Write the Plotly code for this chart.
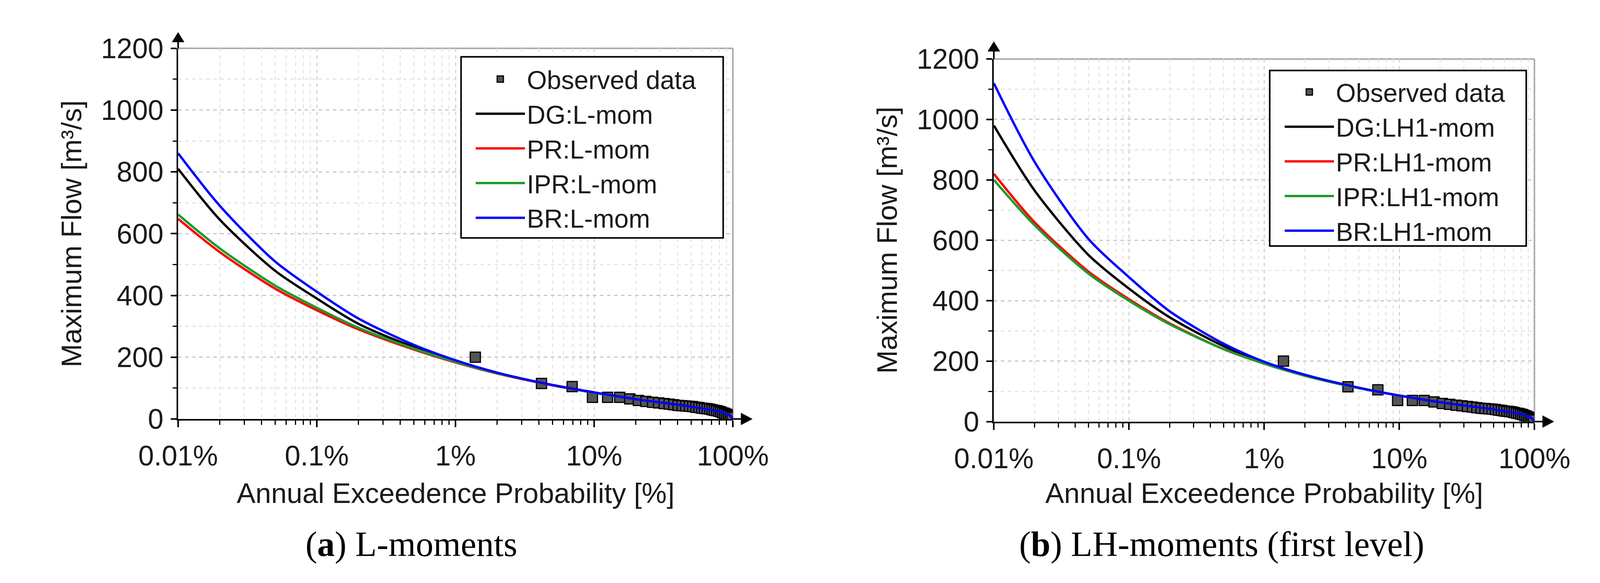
import plotly.graph_objects as go

# ---------------- data ----------------
aep = [0.01, 0.02, 0.05, 0.1, 0.2, 0.5, 1, 2, 5, 10, 20, 50, 80, 95, 99.9]

# (a) L-moments
dg_a  = [810, 645, 480, 390, 308, 233, 187, 149, 110, 86, 64, 40, 24, 12, 1]
pr_a  = [648, 540, 422, 352, 290, 225, 183, 147, 109, 85, 64, 40, 24, 12, 1]
ipr_a = [662, 552, 432, 360, 295, 228, 185, 148, 110, 85, 64, 40, 24, 12, 1]
br_a  = [860, 690, 510, 412, 325, 240, 190, 150, 110, 86, 64, 40, 24, 12, 1]

# (b) LH-moments (first level)
dg_b  = [980, 765, 552, 440, 345, 250, 196, 154, 112, 86, 64, 40, 24, 12, 1]
pr_b  = [820, 660, 497, 405, 325, 240, 192, 152, 111, 86, 64, 40, 24, 12, 1]
ipr_b = [800, 650, 490, 400, 322, 240, 192, 152, 111, 86, 64, 40, 24, 12, 1]
br_b  = [1120, 860, 605, 478, 365, 258, 198, 155, 112, 86, 64, 40, 24, 12, 1]

# observed annual maxima (plotting position in %, flow)
obs_p = [1.39, 4.17, 6.94, 9.72, 12.5, 15.28, 18.06, 20.83, 23.61, 26.39, 29.17, 31.94,
         34.72, 37.5, 40.28, 43.06, 45.83, 48.61, 51.39, 54.17, 56.94, 59.72, 62.5, 65.28,
         68.06, 70.83, 73.61, 76.39, 79.17, 81.94, 84.72, 87.5, 90.28, 93.06, 95.83, 98.61]
obs_q = [200, 115, 105, 70, 70, 70, 65, 60, 57, 54, 52, 50, 48, 46, 44, 43, 42, 41,
         40, 38, 37, 35, 34, 33, 32, 30, 28, 27, 25, 23, 20, 18, 15, 12, 9, 5]

x_tickvals = [0.01, 0.1, 1, 10, 100]
x_ticktext = ["0.01%", "0.1%", "1%", "10%", "100%"]
y_tickvals = [0, 200, 400, 600, 800, 1000, 1200]

names_a = ["DG:L-mom", "PR:L-mom", "IPR:L-mom", "BR:L-mom"]
names_b = ["DG:LH1-mom", "PR:LH1-mom", "IPR:LH1-mom", "BR:LH1-mom"]
colors = ["#000000", "#ff0000", "#1f9a2a", "#0000ff"]

captions = ["(<b>a</b>) L-moments", "(<b>b</b>) LH-moments (first level)"]
x_title = "Annual Exceedence Probability [%]"
y_title = "Maximum Flow [m³/s]"

# ---------------- layout geometry (pixels) ----------------
W, H = 4137, 1493
SANS = "Liberation Sans, Arial, sans-serif"
SERIF = "Liberation Serif, Times New Roman, serif"
TXT = "#1a1a1a"

def fx(x):
    return x / W

def fy(y):
    return 1 - y / H

panels = [
    dict(x0=363, x1=1853, yt=80, yb=1083, box=(1123, 1827, 103, 593), leg_x=1157, leg_t=111,
         ytitle_x=77, cap_x=989, arrow_up=37, arrow_right=1905),
    dict(x0=2554, x1=4006, yt=109, yb=1090, box=(3295, 3984, 140, 615), leg_x=3330, leg_t=146,
         ytitle_x=2268, cap_x=3166, arrow_up=62, arrow_right=4058),
]

minor_x = [k * d for d in [0.01, 0.1, 1, 10] for k in range(2, 10)]

fig = go.Figure()

series_sets = [
    ([dg_a, pr_a, ipr_a, br_a], names_a),
    ([dg_b, pr_b, ipr_b, br_b], names_b),
]

for i, (series, names) in enumerate(series_sets):
    xa = "x" if i == 0 else "x2"
    ya = "y" if i == 0 else "y2"
    leg = "legend" if i == 0 else "legend2"
    fig.add_trace(go.Scatter(
        x=obs_p, y=obs_q, mode="markers", name="Observed data",
        marker=dict(symbol="square", size=26, color="#555555",
                    line=dict(color="#000000", width=3)),
        xaxis=xa, yaxis=ya, legend=leg,
    ))
    for vals, nm, col in zip(series, names, colors):
        fig.add_trace(go.Scatter(
            x=aep, y=vals, mode="lines", name=nm,
            line=dict(color=col, width=6, shape="spline", smoothing=0.8),
            xaxis=xa, yaxis=ya, legend=leg,
        ))

shapes = []
annotations = []
layout_axes = {}

for i, p in enumerate(panels):
    sfx = "" if i == 0 else str(i + 1)
    layout_axes["xaxis" + sfx] = dict(
        type="log", range=[-2, 2],
        domain=[fx(p["x0"]), fx(p["x1"])],
        anchor="y" + sfx,
        tickmode="array", tickvals=x_tickvals, ticktext=x_ticktext,
        ticks="outside", ticklen=17, tickwidth=4, tickcolor="#000000",
        showline=True, linecolor="#000000", linewidth=4,
        showgrid=True, gridcolor="#d2d2d2", gridwidth=3, griddash="dash",
        minor=dict(tickmode="array", tickvals=minor_x, ticks="outside", ticklen=11,
                   tickwidth=3, tickcolor="#000000", showgrid=True,
                   gridcolor="#e6e6e6", gridwidth=3, griddash="dash"),
        tickfont=dict(family=SANS, size=72, color=TXT),
        ticklabelstandoff=12,
        zeroline=False, fixedrange=True,
    )
    layout_axes["yaxis" + sfx] = dict(
        range=[0, 1200],
        domain=[fy(p["yb"]), fy(p["yt"])],
        anchor="x" + sfx,
        tickmode="array", tickvals=y_tickvals,
        ticks="outside", ticklen=15, tickwidth=4, tickcolor="#000000",
        showline=True, linecolor="#000000", linewidth=4,
        showgrid=True, gridcolor="#c8c8c8", gridwidth=3, griddash="dash",
        minor=dict(dtick=100, ticks="outside", ticklen=10, tickwidth=3,
                   tickcolor="#000000", showgrid=True, gridcolor="#e4e4e4",
                   gridwidth=3, griddash="dash"),
        tickfont=dict(family=SANS, size=72, color=TXT),
        ticklabelstandoff=4,
        zeroline=False, fixedrange=True,
    )
    # grey frame on top and right
    shapes.append(dict(type="line", xref="paper", yref="paper",
                       x0=fx(p["x0"]), x1=fx(p["x1"]), y0=fy(p["yt"]), y1=fy(p["yt"]),
                       line=dict(color="#aaaaaa", width=4), layer="below"))
    shapes.append(dict(type="line", xref="paper", yref="paper",
                       x0=fx(p["x1"]), x1=fx(p["x1"]), y0=fy(p["yt"]), y1=fy(p["yb"]),
                       line=dict(color="#aaaaaa", width=4), layer="below"))
    # axis extensions with arrow heads
    shapes.append(dict(type="line", xref="paper", yref="paper",
                       x0=fx(p["x0"]), x1=fx(p["x0"]), y0=fy(p["yt"]), y1=fy(p["arrow_up"] + 20),
                       line=dict(color="#000000", width=4)))
    ax0, tip = p["x0"], p["arrow_up"]
    shapes.append(dict(type="path", xref="paper", yref="paper",
                       path=f"M {fx(ax0-16)},{fy(tip+26)} L {fx(ax0+16)},{fy(tip+26)} L {fx(ax0)},{fy(tip)} Z",
                       fillcolor="#000000", line=dict(color="#000000", width=1)))
    shapes.append(dict(type="line", xref="paper", yref="paper",
                       x0=fx(p["x1"]), x1=fx(p["arrow_right"] - 20), y0=fy(p["yb"]), y1=fy(p["yb"]),
                       line=dict(color="#000000", width=4)))
    rt, yb = p["arrow_right"], p["yb"]
    shapes.append(dict(type="path", xref="paper", yref="paper",
                       path=f"M {fx(rt-30)},{fy(yb-16)} L {fx(rt-30)},{fy(yb+16)} L {fx(rt)},{fy(yb)} Z",
                       fillcolor="#000000", line=dict(color="#000000", width=1)))
    # legend frame (opaque white box with black border)
    bx0, bx1, by0, by1 = p["box"]
    shapes.append(dict(type="rect", xref="paper", yref="paper",
                       x0=fx(bx0), x1=fx(bx1), y0=fy(by0), y1=fy(by1),
                       fillcolor="#ffffff", line=dict(color="#000000", width=4), layer="above"))
    # axis titles
    annotations.append(dict(text=x_title, xref="paper", yref="paper",
                            x=(fx(p["x0"]) + fx(p["x1"])) / 2, y=fy(1284),
                            xanchor="center", yanchor="middle", showarrow=False,
                            font=dict(family=SANS, size=72, color=TXT)))
    annotations.append(dict(text=y_title, xref="paper", yref="paper",
                            x=fx(p["ytitle_x"]), y=(fy(p["yt"]) + fy(p["yb"])) / 2,
                            xanchor="center", yanchor="middle", textangle=-90, showarrow=False,
                            font=dict(family=SANS, size=72, color=TXT)))
    annotations.append(dict(text=captions[i], xref="paper", yref="paper",
                            x=fx(p["cap_x"]), y=fy(1422),
                            xanchor="center", yanchor="middle", showarrow=False,
                            font=dict(family=SERIF, size=90, color="#000000")))

legend_common = dict(
    xanchor="left", yanchor="top",
    bgcolor="rgba(0,0,0,0)", borderwidth=0,
    font=dict(family=SANS, size=66, color=TXT),
    itemwidth=126, tracegroupgap=0,
)

fig.update_layout(
    width=W, height=H,
    margin=dict(l=0, r=0, t=0, b=0),
    paper_bgcolor="#ffffff", plot_bgcolor="#ffffff",
    showlegend=True,
    legend=dict(x=fx(panels[0]["leg_x"]), y=fy(panels[0]["leg_t"]), **legend_common),
    legend2=dict(x=fx(panels[1]["leg_x"]), y=fy(panels[1]["leg_t"]), **legend_common),
    shapes=shapes,
    annotations=annotations,
    **layout_axes,
)

fig.write_html("out.html")
